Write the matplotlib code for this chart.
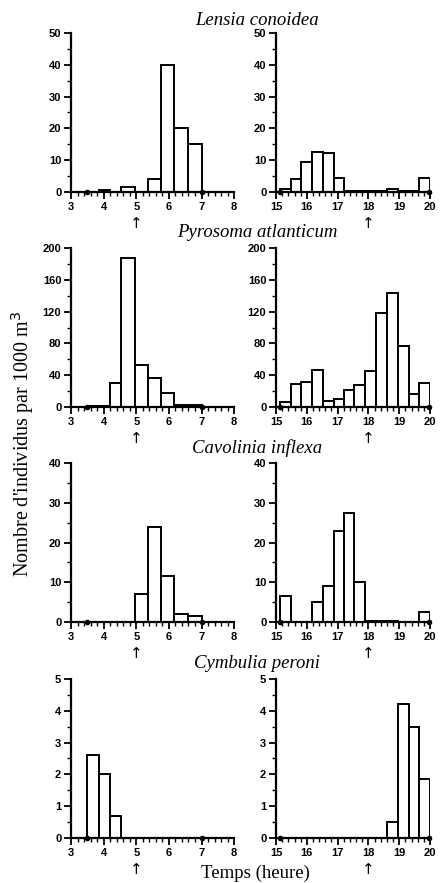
import numpy as np
import matplotlib
matplotlib.use('Agg')
import matplotlib.pyplot as plt
from matplotlib.ticker import MultipleLocator

# bin edges (hours) for the morning and evening series
edges_am = [3.5, 3.85, 4.19, 4.54, 4.96, 5.36, 5.76, 6.17, 6.59, 7.0]
edges_pm = [15.13, 15.47, 15.82, 16.17, 16.53, 16.88, 17.2, 17.54, 17.9,
            18.24, 18.6, 18.97, 19.31, 19.64, 20.0]

species = ['Lensia conoidea', 'Pyrosoma atlanticum', 'Cavolinia inflexa', 'Cymbulia peroni']

lensia_am = [0, 0.5, 0, 1.5, 0, 4, 40, 20, 15]
lensia_pm = [1, 4, 9.5, 12.5, 12.3, 4.5, 0.4, 0.4, 0.4, 0.4, 1, 0.4, 0.4, 4.5]
pyrosoma_am = [1, 1, 30, 188, 53, 36, 18, 3, 3]
pyrosoma_pm = [7, 29, 31, 47, 8, 10, 22, 28, 45, 118, 144, 77, 17, 30]
cavolinia_am = [0, 0, 0, 0, 7, 24, 11.5, 2, 1.5]
cavolinia_pm = [6.5, 0, 0, 5, 9, 23, 27.5, 10, 0.3, 0.3, 0.2, 0, 0, 2.5]
cymbulia_am = [2.6, 2.0, 0.7, 0, 0, 0, 0, 0, 0]
cymbulia_pm = [0, 0, 0, 0, 0, 0, 0, 0, 0, 0, 0.5, 4.2, 3.5, 1.85]

am_values = [lensia_am, pyrosoma_am, cavolinia_am, cymbulia_am]
pm_values = [lensia_pm, pyrosoma_pm, cavolinia_pm, cymbulia_pm]
ymax = [50, 200, 40, 5]
ystep = [10, 40, 10, 1]

fig = plt.figure(figsize=(4.41, 8.83), dpi=100)

bottoms = [0.7826, 0.539, 0.2956, 0.051]
title_y = [0.977, 0.737, 0.493, 0.249]
h = 0.180

tickfont = dict(family='Liberation Sans', weight='bold', size=8)

def draw(ax, edges, vals, xlim, xmajor, top, step, dots, arrow_x):
    e = np.array(edges)
    ax.bar(e[:-1], vals, width=np.diff(e), align='edge', color='white',
           edgecolor='black', linewidth=1.4)
    ax.plot(dots, [0, 0], 'o', color='black', ms=3, clip_on=False, zorder=5)
    ax.set_xlim(*xlim)
    ax.set_ylim(0, top)
    ax.set_xticks(xmajor)
    ax.xaxis.set_minor_locator(MultipleLocator(0.2))
    ax.yaxis.set_major_locator(MultipleLocator(step))
    ax.yaxis.set_minor_locator(MultipleLocator(step / 2))
    for s in ['top', 'right']:
        ax.spines[s].set_visible(False)
    for s in ['left', 'bottom']:
        ax.spines[s].set_linewidth(1.6)
    ax.tick_params(which='major', length=5, width=1.3, pad=2)
    ax.tick_params(which='minor', length=3, width=1.0)
    for lab in ax.get_xticklabels() + ax.get_yticklabels():
        lab.set_fontproperties(matplotlib.font_manager.FontProperties(**tickfont))
    ax.text(arrow_x, -0.2, '\u2191', transform=ax.get_xaxis_transform(),
            ha='center', va='center', fontsize=11, family='DejaVu Sans')

for i in range(4):
    axl = fig.add_axes([0.161, bottoms[i], 0.370, h])
    draw(axl, edges_am, am_values[i], (3, 8), range(3, 9), ymax[i], ystep[i], [3.5, 7.0], 5)
    axr = fig.add_axes([0.626, bottoms[i], 0.349, h])
    draw(axr, edges_pm, pm_values[i], (15, 20), range(15, 21), ymax[i], ystep[i], [15.13, 19.97], 18)
    fig.text(0.583, title_y[i], species[i], ha='center', va='center',
             family='Liberation Serif', style='italic', fontsize=13.5)

fig.text(0.052, 0.497, "Nombre d'individus par 1000 m$^3$", rotation=90,
         ha='center', va='center', family='Liberation Serif', fontsize=14.5)
fig.text(0.58, 0.011, 'Temps (heure)', ha='center', va='center',
         family='Liberation Serif', fontsize=13.5)

fig.savefig('out.png', dpi=100)
